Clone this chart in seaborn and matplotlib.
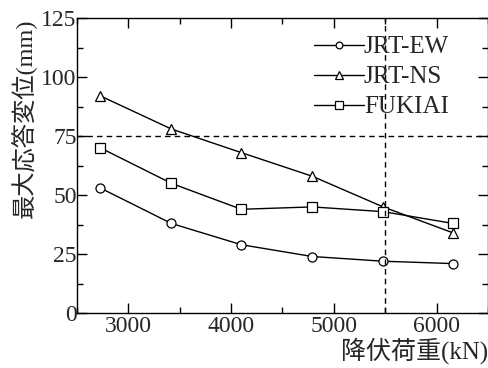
import matplotlib
matplotlib.use("Agg")
import matplotlib.pyplot as plt
import seaborn as sns
import pandas as pd
from matplotlib.ticker import MultipleLocator

sns.set_theme(style="ticks")
plt.rcParams['font.family'] = ['Liberation Serif', 'Noto Sans CJK JP']

yield_load = [2730, 3420, 4100, 4790, 5480, 6160]
jrt_ew = [53, 38, 29, 24, 22, 21]
jrt_ns = [92, 78, 68, 58, 45, 34]
fukiai = [70, 55, 44, 45, 43, 38]
series_names = ["JRT-EW", "JRT-NS", "FUKIAI"]
markers = ["o", "^", "s"]

df = pd.DataFrame({
    "load": yield_load * 3,
    "disp": jrt_ew + jrt_ns + fukiai,
    "series": sum([[n] * len(yield_load) for n in series_names], []),
})

fig = plt.figure(figsize=(4.89, 3.68), dpi=100)
ax = fig.add_axes([0.157, 0.149, 0.841, 0.802])

for name, m in zip(series_names, markers):
    sub = df[df.series == name]
    sns.lineplot(data=sub, x="load", y="disp", ax=ax, color="black", lw=1.0,
                 marker=m, markersize=7 if m != "o" else 6.5, markerfacecolor="white",
                 markeredgecolor="black", markeredgewidth=0.9, label=name)

ax.axhline(75, color="black", lw=1.0, ls=(0, (4, 3)))
ax.axvline(5500, color="black", lw=1.0, ls=(0, (4, 3)))

ax.set_xlim(2500, 6500)
ax.set_ylim(0, 125)
ax.xaxis.set_major_locator(MultipleLocator(1000))
ax.xaxis.set_minor_locator(MultipleLocator(500))
ax.yaxis.set_major_locator(MultipleLocator(25))
ax.yaxis.set_minor_locator(MultipleLocator(12.5))
ax.tick_params(which="both", direction="in", top=True, right=True, color="black")
ax.tick_params(which="major", length=7, width=1.0, labelsize=17, pad=2)
ax.tick_params(which="minor", length=4, width=1.0)
ax.tick_params(axis="y", pad=0)
for s in ax.spines.values():
    s.set_color("black")
    s.set_linewidth(1.0)

ax.set_xlabel("降伏荷重(kN)", fontsize=18, loc="right", labelpad=0)
ax.set_ylabel("最大応答変位(mm)", fontsize=17.5, loc="top", labelpad=0)
ax.yaxis.set_label_coords(-0.100, 1.0)

leg = ax.legend(loc="upper right", bbox_to_anchor=(0.942, 0.99), frameon=False,
                fontsize=18, handlelength=2.0, handletextpad=0.0,
                labelspacing=0.3, borderaxespad=0.2, markerscale=0.75)

fig.savefig("out.png", dpi=100)
